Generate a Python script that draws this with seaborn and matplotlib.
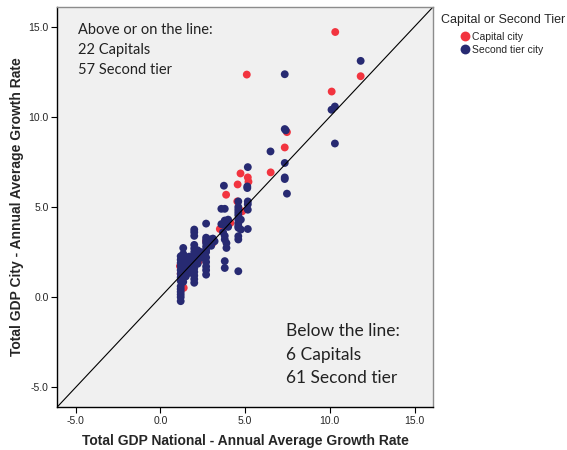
import pandas as pd
import matplotlib.pyplot as plt
import seaborn as sns

# Capital cities: national growth (x) vs city growth (y)
capital_x = [10.32, 5.10, 10.11, 11.82, 7.47, 7.34, 6.51, 4.73, 5.16, 5.20,
             4.56, 3.88, 4.83, 4.14, 3.51, 3.08, 2.27, 2.23, 1.62, 1.16,
             1.38, 1.30, 4.54, 2.00, 2.70, 1.80, 3.80, 1.20]
capital_y = [14.70, 12.34, 11.40, 12.25, 9.15, 8.30, 6.92, 6.86, 6.64, 6.40,
             6.25, 5.68, 4.76, 4.12, 3.78, 3.00, 1.99, 2.05, 1.86, 1.72,
             0.52, 0.90, 5.31, 2.20, 3.10, 1.40, 4.20, 1.30]

# Second tier cities
second_x = ([11.82, 7.34, 10.10, 10.30, 10.30, 7.34, 7.40, 6.50, 7.34, 7.34,
             7.34, 7.47, 5.16, 3.75, 5.13, 5.13]
            + [5.16] * 4 + [4.60] * 12 + [4.75] * 2
            + [3.60, 3.80, 3.60, 3.80, 3.80, 3.70, 3.80, 3.80, 3.90, 3.80, 3.80, 3.90]
            + [2.95, 3.10, 3.00, 3.20] + [2.70] * 12 + [2.20] * 6 + [2.00] * 14
            + [1.70] * 5 + [1.50] * 5 + [1.35] * 7 + [1.20] * 14
            + [2.40] * 3 + [4.00] * 2)
second_y = ([13.10, 12.36, 10.39, 10.57, 8.52, 9.32, 9.25, 8.08, 7.44, 6.64,
             6.55, 5.74, 7.21, 6.18, 6.14, 6.05]
            + [5.31, 5.15, 4.85, 3.78]
            + [5.31, 5.00, 4.85, 4.70, 4.55, 4.30, 4.10, 3.95, 3.85, 3.38, 3.20, 1.44]
            + [4.30, 3.75]
            + [4.90, 4.90, 4.05, 4.25, 4.00, 3.60, 3.40, 3.20, 2.73, 2.00, 1.62, 3.00]
            + [3.20, 3.25, 2.85, 3.10]
            + [4.08, 3.30, 3.15, 3.00, 2.80, 2.60, 2.50, 2.20, 1.95, 1.70, 1.50, 1.25]
            + [2.60, 2.45, 2.30, 2.15, 2.00, 1.85]
            + [3.75, 3.60, 3.40, 2.90, 2.70, 2.50, 2.30, 2.10, 1.90, 1.60, 1.40, 1.20, 1.00, 0.80]
            + [2.25, 2.00, 1.80, 1.55, 1.35]
            + [2.10, 1.85, 1.60, 1.30, 1.15]
            + [2.73, 2.40, 2.00, 1.70, 1.40, 1.10, 0.85]
            + [2.27, 2.08, 1.90, 1.72, 1.50, 1.30, 1.10, 0.90, 0.60, 0.45, 0.30, 0.15, 0.00, -0.22]
            + [2.40, 2.20, 2.50] + [3.90, 4.30])

tick_vals = [-5, 0, 5, 10, 15]

df = pd.DataFrame({
    'national': capital_x + second_x,
    'city': capital_y + second_y,
    'tier': ['Capital city'] * len(capital_x) + ['Second tier city'] * len(second_x),
})

sns.set_style('white')
plt.rcParams['font.family'] = ['Liberation Sans', 'DejaVu Sans']

fig = plt.figure(figsize=(5.67, 4.5), dpi=100)
ax = fig.add_axes([0.1005, 0.095, 0.6635, 0.89])
ax.set_facecolor('#F0F0F0')

palette = {'Capital city': '#F2343F', 'Second tier city': '#272A72'}
sns.scatterplot(data=df, x='national', y='city', hue='tier', palette=palette,
                s=32, linewidth=0, alpha=1, ax=ax)

lim = (-6.1, 16.1)
ax.set_xlim(lim)
ax.set_ylim(lim)
ax.axline((0, 0), slope=1, color='black', linewidth=0.8, zorder=1)

ax.set_xticks(tick_vals)
ax.set_yticks(tick_vals)
ax.set_xticklabels([f'{v:.1f}' for v in tick_vals])
ax.set_yticklabels([f'{v:.1f}' for v in tick_vals])
ax.tick_params(axis='both', direction='out', length=4, width=0.8, labelsize=7.5,
               color='black', bottom=True, left=True, pad=2)

for side in ['left', 'bottom']:
    ax.spines[side].set_color('black')
    ax.spines[side].set_linewidth(1.0)
for side in ['top', 'right']:
    ax.spines[side].set_color('#8C8C8C')
    ax.spines[side].set_linewidth(1.0)

ax.set_xlabel('Total GDP National - Annual Average Growth Rate',
              fontsize=10, fontweight='bold', labelpad=6)
ax.set_ylabel('Total GDP City - Annual Average Growth Rate',
              fontsize=10, fontweight='bold', labelpad=3)

ax.text(-4.85, 15.2, 'Above or on the line:\n22 Capitals\n57 Second tier',
        fontsize=10.5, family='Lato', va='top', ha='left', linespacing=1.55,
        color='#222222')
ax.text(7.4, -1.45, 'Below the line:\n6 Capitals\n61 Second tier',
        fontsize=12.5, family='Lato', va='top', ha='left', linespacing=1.55,
        color='#222222')

handles, labels = ax.get_legend_handles_labels()
ax.legend_.remove()
fig.text(441 / 567, 1 - 20 / 450, 'Capital or Second Tier', fontsize=9,
         ha='left', va='center')
fig.legend(handles, labels, loc='upper left', bbox_to_anchor=(460 / 567, 1 - 32 / 450),
           frameon=False, fontsize=7.5, markerscale=1.25, handlelength=1.0,
           handletextpad=0.15, borderpad=0, borderaxespad=0, labelspacing=0.25)

fig.savefig('out.png', dpi=100)
